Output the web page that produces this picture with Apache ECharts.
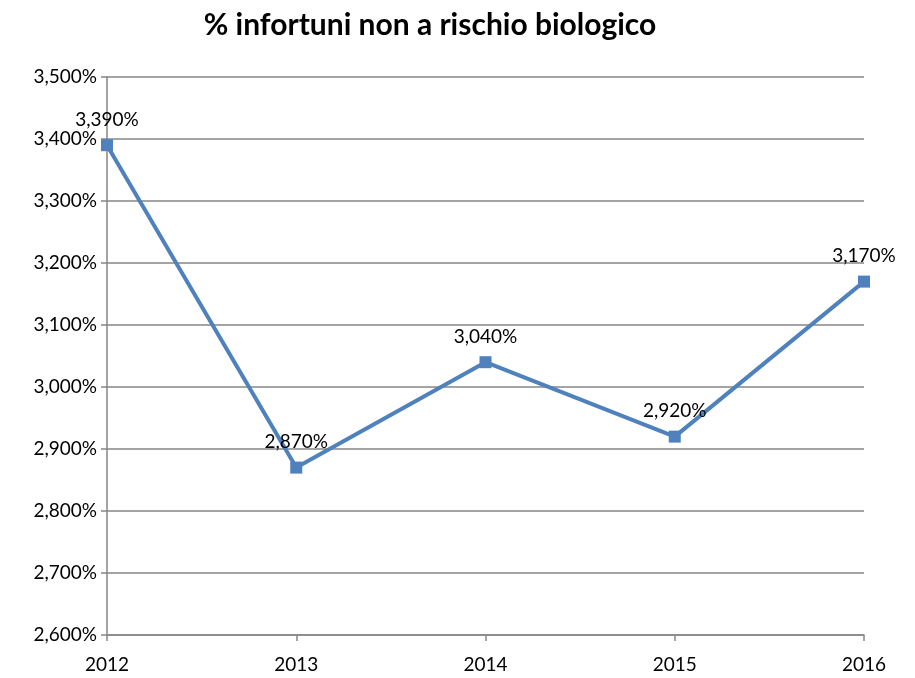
<!DOCTYPE html>
<html>
<head>
<meta charset="utf-8">
<script src="https://cdn.jsdelivr.net/npm/echarts@6/dist/echarts.min.js"></script>
<style>
	html, body { margin: 0; padding: 0; background: #fff; }
	#chart { width: 915px; height: 678px; }
</style>
</head>
<body>
<div id="chart"></div>
<script>
	var years = ['2012', '2013', '2014', '2015', '2016'];
	var values = [3.39, 2.87, 3.04, 2.92, 3.17];
	var yMin = 2.6, yMax = 3.5, yStep = 0.1;

	function fmt(v) {
		return v.toFixed(3).replace('.', ',') + '%';
	}

	var chart = echarts.init(document.getElementById('chart'));
	var font = 'Lato, "Open Sans", sans-serif';
	var option = {
		backgroundColor: '#ffffff',
		animation: false,
		title: {
			text: '% infortuni non a rischio biologico',
			left: 425,
			textAlign: 'center',
			top: 5,
			textStyle: {
				fontFamily: font,
				fontSize: 30,
				fontWeight: 'bold',
				color: '#000'
			}
		},
		grid: {
			left: 107,
			right: 51,
			top: 77,
			bottom: 43
		},
		xAxis: {
			type: 'category',
			data: years,
			boundaryGap: false,
			axisLine: { lineStyle: { color: '#868686', width: 1.5 } },
			axisTick: { show: true, length: 6, lineStyle: { color: '#868686', width: 1.5 } },
			axisLabel: {
				color: '#000',
				fontFamily: font,
				fontSize: 19,
				margin: 20
			},
			splitLine: { show: false }
		},
		yAxis: {
			type: 'value',
			min: yMin,
			max: yMax,
			interval: yStep,
			axisLine: { show: true, lineStyle: { color: '#868686', width: 1.5 } },
			axisTick: { show: true, length: 6, lineStyle: { color: '#868686', width: 1.5 } },
			axisLabel: {
				color: '#000',
				fontFamily: font,
				fontSize: 19,
				margin: 10,
				formatter: function (v) { return fmt(v); }
			},
			splitLine: { show: true, lineStyle: { color: '#868686', width: 1.5 } }
		},
		series: [{
			type: 'line',
			data: values,
			symbol: 'rect',
			symbolSize: 12,
			lineStyle: { color: '#4f81bd', width: 4 },
			itemStyle: { color: '#4f81bd' },
			label: {
				show: true,
				position: 'top',
				distance: 10,
				color: '#000',
				fontFamily: font,
				fontSize: 19,
				formatter: function (p) { return fmt(p.value); }
			}
		}]
	};
	chart.setOption(option);
</script>
</body>
</html>
